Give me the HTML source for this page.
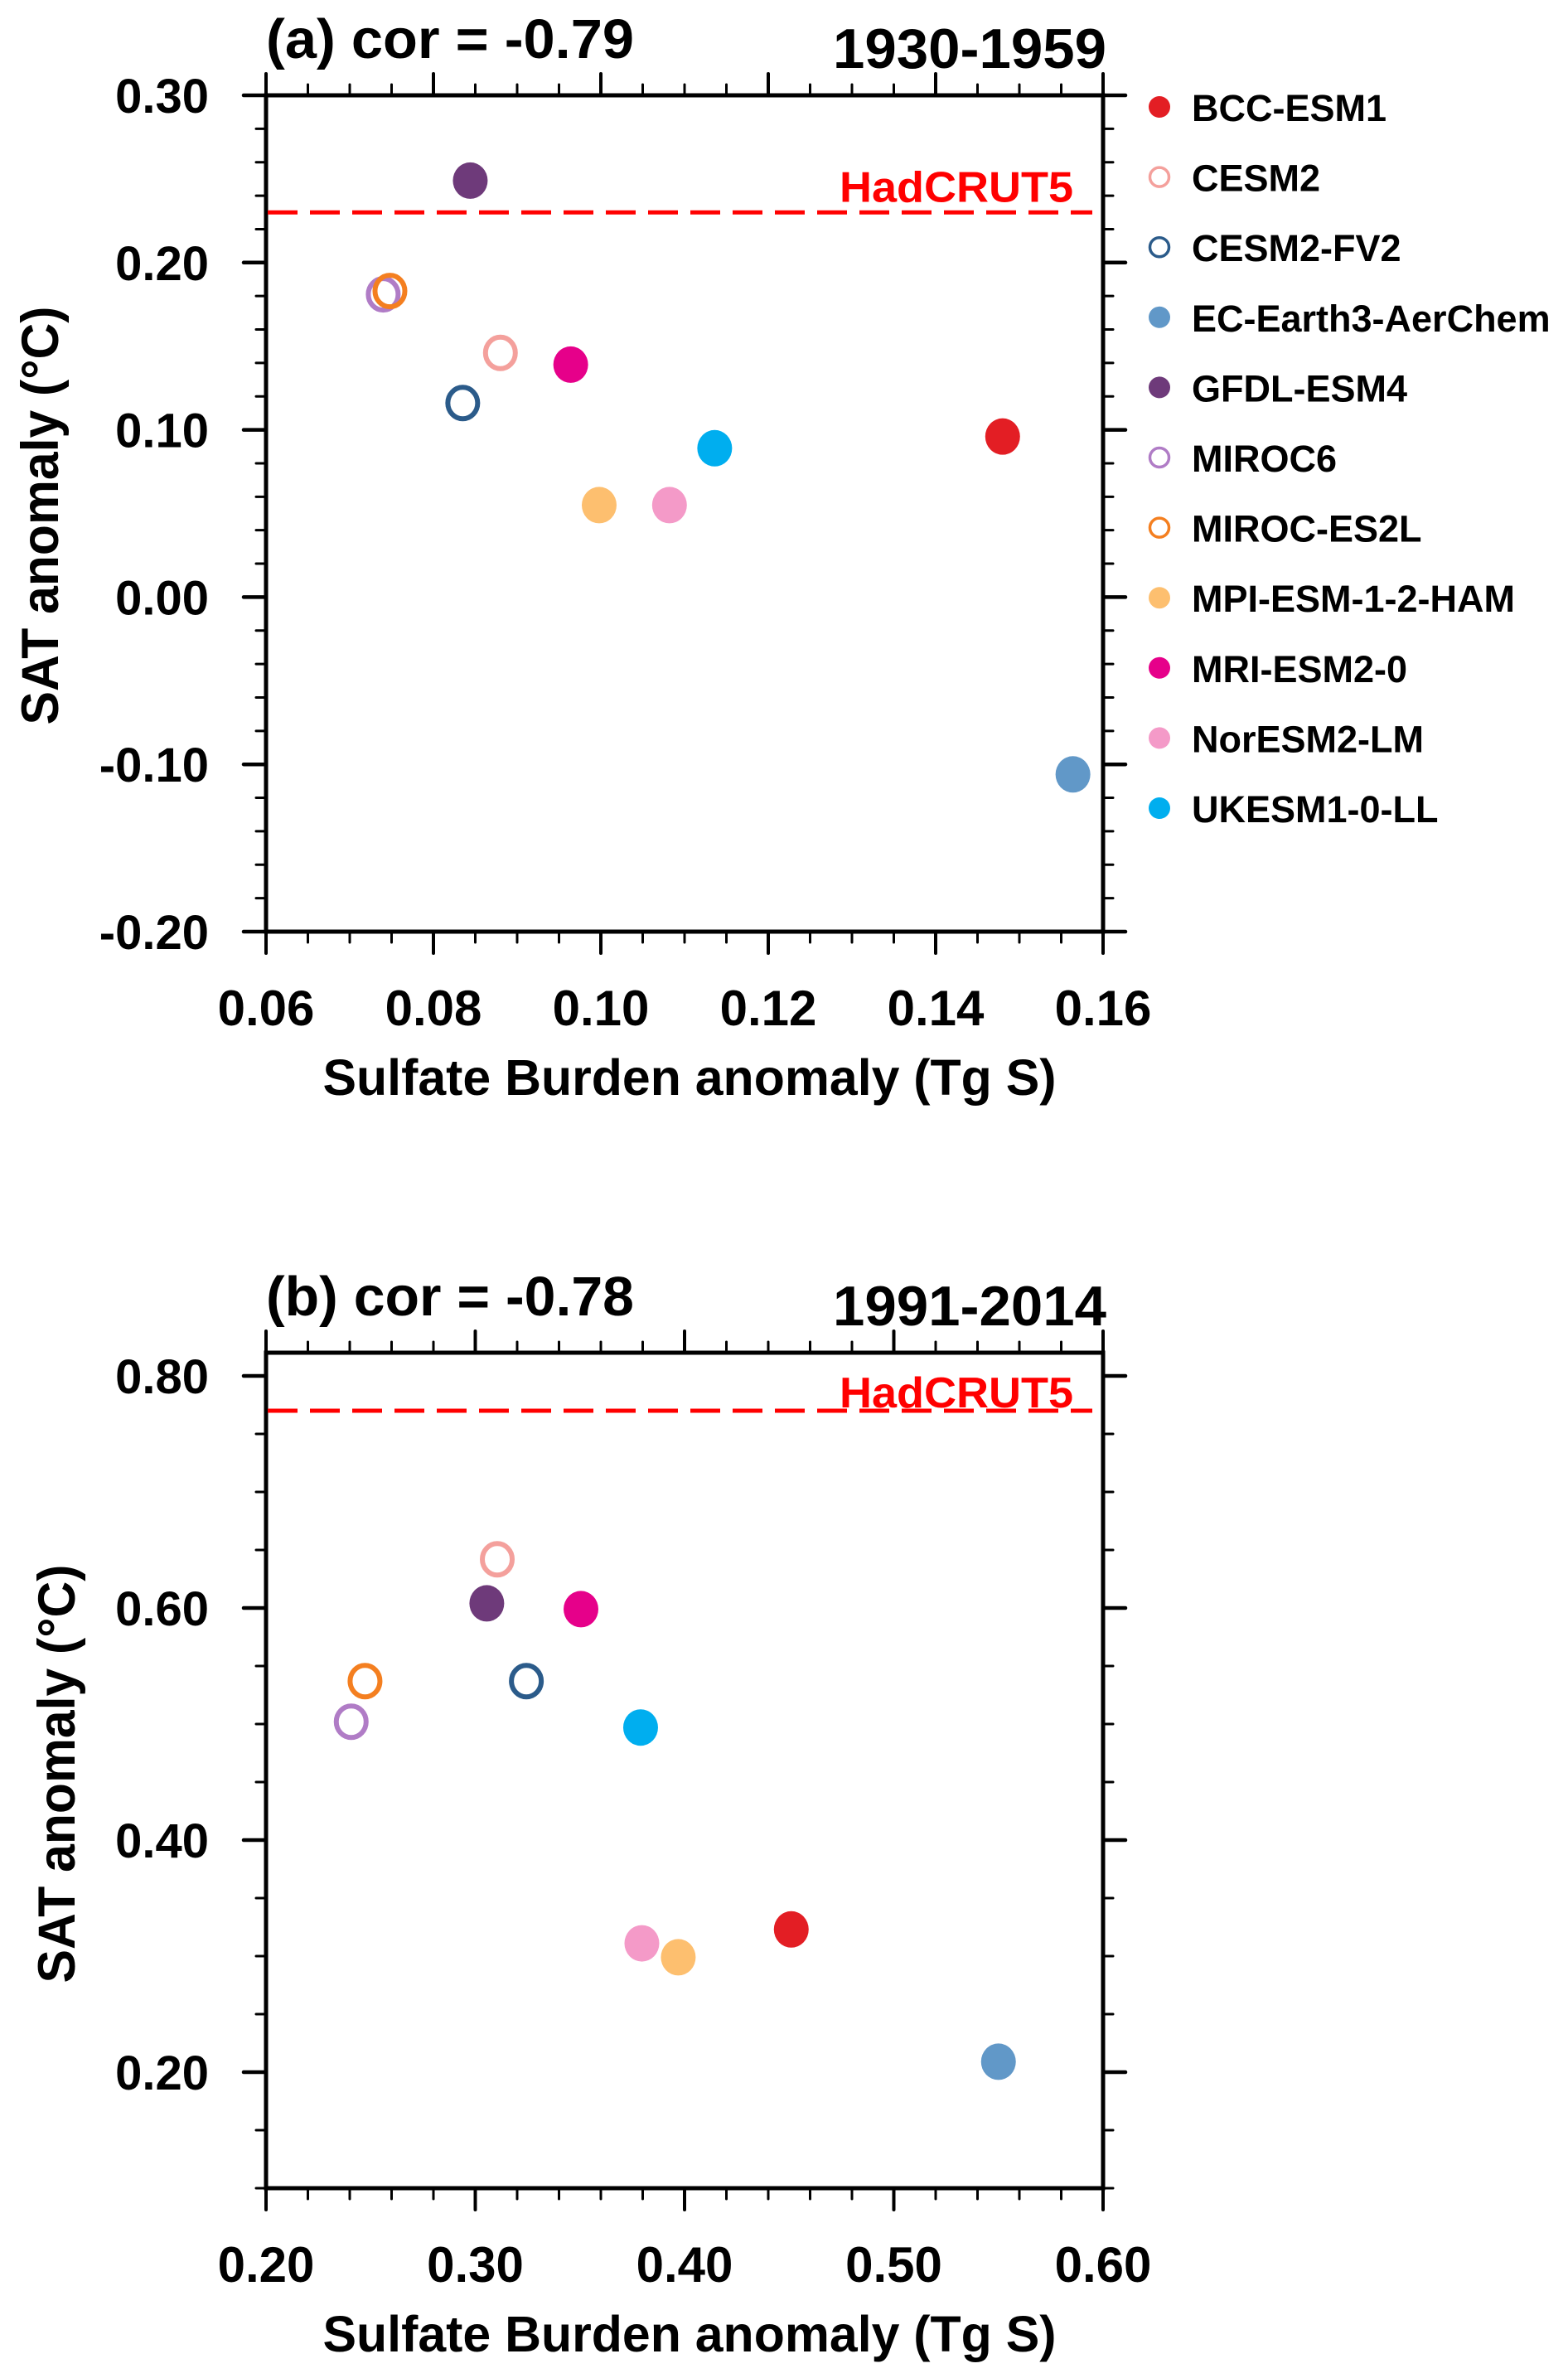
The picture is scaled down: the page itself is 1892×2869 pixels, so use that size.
<!DOCTYPE html>
<html><head><meta charset="utf-8"><style>
html,body{margin:0;padding:0;background:#fff;}
svg{display:block;font-family:"Liberation Sans",Arial,sans-serif;font-weight:bold;}
</style></head><body>
<svg id="chart" width="1892" height="2869" viewBox="0 0 1892 2869" xmlns="http://www.w3.org/2000/svg"></svg>
<script>
const models = ["BCC-ESM1","CESM2","CESM2-FV2","EC-Earth3-AerChem","GFDL-ESM4","MIROC6","MIROC-ES2L","MPI-ESM-1-2-HAM","MRI-ESM2-0","NorESM2-LM","UKESM1-0-LL"];
const colors = ["#e31e24","#f4a09c","#2b5b8a","#6198c8","#6e3a7a","#b07cc6","#f47f20","#fdbf6f","#e6008a","#f49ac8","#00aeef"];
const hollow = [false,true,true,false,false,true,true,false,false,false,false];
const sulfateA = [0.148,0.088,0.0835,0.1564,0.0844,0.0740,0.0748,0.0998,0.0964,0.1082,0.1136];
const satA     = [0.096,0.146,0.116,-0.106,0.249,0.181,0.183,0.055,0.139,0.055,0.089];
const sulfateB = [0.451,0.3105,0.3244,0.550,0.3055,0.2407,0.2473,0.397,0.3505,0.3796,0.379];
const satB     = [0.323,0.642,0.537,0.209,0.604,0.502,0.537,0.299,0.599,0.311,0.497];
const hadA = 0.23, hadB = 0.77;
const xTicksA = ["0.06","0.08","0.10","0.12","0.14","0.16"];
const yTicksA = ["-0.20","-0.10","0.00","0.10","0.20","0.30"];
const xTicksB = ["0.20","0.30","0.40","0.50","0.60"];
const yTicksB = ["0.20","0.40","0.60","0.80"];

const NS="http://www.w3.org/2000/svg";
const svg=document.getElementById('chart');
function mk(tag,attrs,parent){const e=document.createElementNS(NS,tag);for(const k in attrs)e.setAttribute(k,attrs[k]);(parent||svg).appendChild(e);return e;}

function panel(cfg){
  const g=mk('g',{});
  
  
  const L=321,R=1331,T=cfg.top,B=cfg.bottom;
  const sx=v=>L+(v-cfg.xmin)/(cfg.xmax-cfg.xmin)*(R-L);
  const sy=v=>B-(v-cfg.ymin)/(cfg.ymax-cfg.ymin)*(B-T);
  const line=(x1,y1,x2,y2,w)=>mk('line',{x1,y1,x2,y2,stroke:'#000','stroke-width':w,'stroke-linecap':'round'},g);
  // x ticks
  for(let v=cfg.xmin;v<=cfg.xmax+1e-9;v+=cfg.xminor){
    const x=sx(v);const maj=Math.abs(Math.round((v-cfg.xmin)/cfg.xmajor)*cfg.xmajor-(v-cfg.xmin))<1e-9;
    const len=maj?26:13;
    line(x,B,x,B+len,maj?4:3);line(x,T,x,T-len,maj?4:3);
  }
  for(let v=cfg.ymin;v<=cfg.ymax+1e-9;v+=cfg.yminor){
    const y=sy(v);const maj=Math.abs(Math.round((v-cfg.ymin)/cfg.ymajor)*cfg.ymajor-(v-cfg.ymin))<1e-9;
    if(cfg.ymajOffset!==undefined){}
    const isMaj=cfg.yTickVals.some(t=>Math.abs(t-v)<1e-9);
    const len=isMaj?27:12;
    line(L,y,L-len,y,isMaj?4.5:3);line(R,y,R+len,y,isMaj?4.5:3);
  }
  mk('rect',{x:L,y:T,width:R-L,height:B-T,fill:'none',stroke:'#000','stroke-width':5},g);
  cfg.xTicks.forEach(s=>{const t=mk('text',{x:sx(parseFloat(s)),y:B+113,'text-anchor':'middle','font-size':60,fill:'#000'},g);t.textContent=s;
    
    });
  cfg.yTicks.forEach(s=>{const t=mk('text',{x:252,y:sy(parseFloat(s))+21,'text-anchor':'end','font-size':58,fill:'#000'},g);t.textContent=s;
    
    });
  let t=mk('text',{x:832,y:B+197,'text-anchor':'middle','font-size':61,textLength:885,lengthAdjust:'spacingAndGlyphs'},g);t.textContent='Sulfate Burden anomaly (Tg S)';
  
  
  t=mk('text',{x:0,y:0,'text-anchor':'middle','font-size':63,textLength:505,lengthAdjust:'spacingAndGlyphs',transform:`translate(${cfg.ytx},${cfg.yty}) rotate(-90)`},g);t.textContent='SAT anomaly (°C)';
  
  
  t=mk('text',{x:321,y:T-45,'font-size':67,textLength:444,lengthAdjust:'spacingAndGlyphs'},g);t.textContent=cfg.title;
  
  
  t=mk('text',{x:1335,y:T-33,'text-anchor':'end','font-size':68,textLength:330,lengthAdjust:'spacingAndGlyphs'},g);t.textContent=cfg.period;
  
  
  // HadCRUT5
  const hy=sy(cfg.had);
  const hl=mk('line',{x1:L+2,y1:hy,x2:1318,y2:hy,stroke:'#ff0000','stroke-width':5,'stroke-dasharray':'36 15'},g);
  
  
  t=mk('text',{x:1013,y:hy-cfg.hoff,'font-size':52,fill:'#ff0000',textLength:282,lengthAdjust:'spacingAndGlyphs'},g);t.textContent='HadCRUT5';
  
  
  // points
  cfg.xs.forEach((xv,i)=>{
    let c;
    if(hollow[i]) c=mk('ellipse',{cx:sx(xv),cy:sy(cfg.ys[i]),rx:18,ry:19,fill:'none',stroke:colors[i],'stroke-width':6},g);
    else c=mk('ellipse',{cx:sx(xv),cy:sy(cfg.ys[i]),rx:21,ry:22,fill:colors[i]},g);
    
    
  });
}
panel({name:'panel-a',top:115,bottom:1124,xmin:0.06,xmax:0.16,xmajor:0.02,xminor:0.005,ymin:-0.2,ymax:0.3,ymajor:0.1,yminor:0.02,
  yTickVals:[-0.2,-0.1,0,0.1,0.2,0.3],xTicks:xTicksA,yTicks:yTicksA,title:'(a) cor = -0.79',period:'1930-1959',had:hadA,hoff:13,
  xs:sulfateA,ys:satA,ytx:70,yty:622});
panel({name:'panel-b',top:1632,bottom:2640,xmin:0.2,xmax:0.6,xmajor:0.1,xminor:0.02,ymin:0.1,ymax:0.82,ymajor:0.2,yminor:0.05,
  yTickVals:[0.2,0.4,0.6,0.8],xTicks:xTicksB,yTicks:yTicksB,title:'(b) cor = -0.78',period:'1991-2014',had:hadB,hoff:4,
  xs:sulfateB,ys:satB,ytx:90,yty:2140});
// legend
const lg=mk('g',{});


models.forEach((m,i)=>{
  const y=129+i*84.6;
  let c;
  if(hollow[i]) c=mk('circle',{cx:1399,cy:y,r:11.5,fill:'none',stroke:colors[i],'stroke-width':3.5},lg);
  else c=mk('circle',{cx:1399,cy:y,r:13,fill:colors[i]},lg);
  
  
  const t=mk('text',{x:1438,y:y+17,'font-size':45,fill:'#000'},lg);t.textContent=m;
  
  
});
</script>
</body></html>
